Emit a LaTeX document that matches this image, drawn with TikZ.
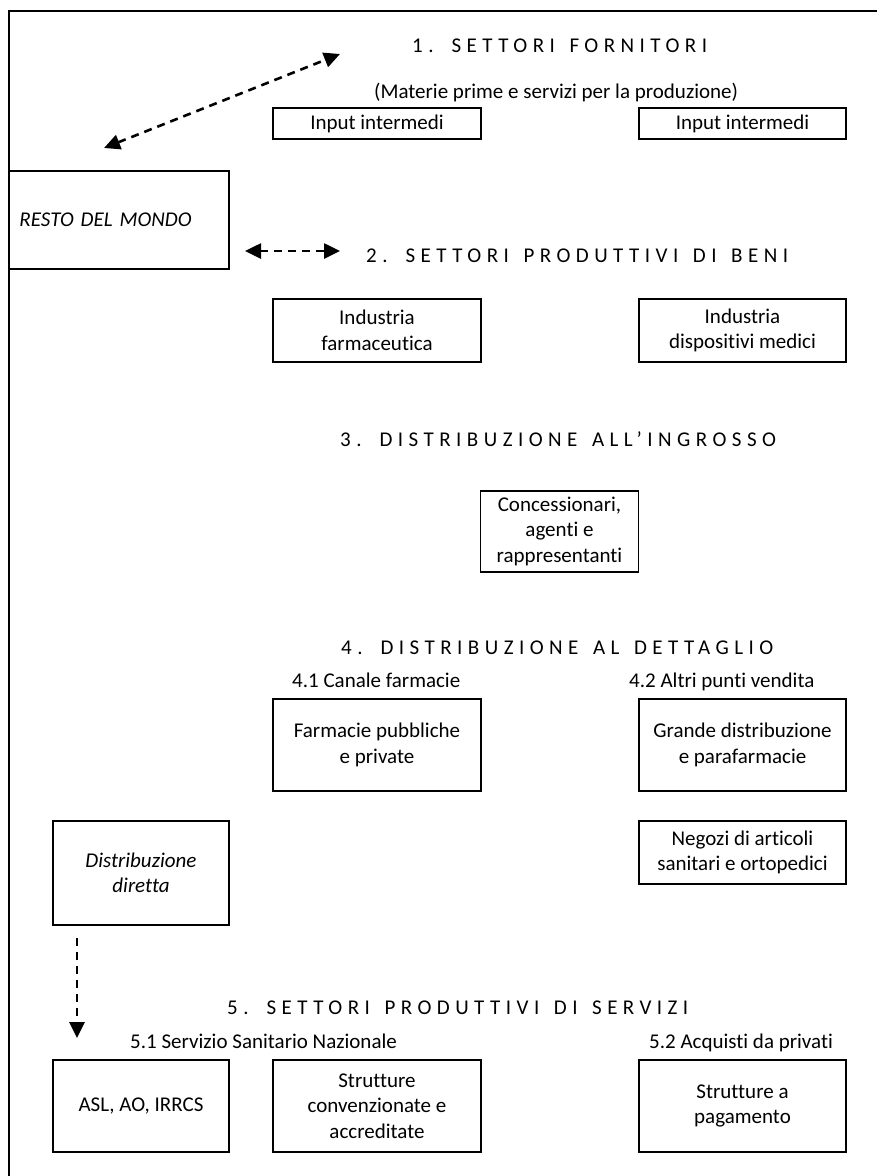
\documentclass[tikz,border=0pt]{standalone}
\usepackage{fontspec}
\setmainfont{Carlito}[Ligatures=NoCommon]
\newfontfamily\headfont{Carlito}[LetterSpace=26, WordSpace=1.43, Ligatures=NoCommon]
\usetikzlibrary{arrows.meta}
\tikzset{
  base/.style={font=\fontsize{21}{25.5}\selectfont},
  box/.style={base, draw, line width=1.9pt, align=center, inner sep=0pt},
  head/.style={font=\fontsize{21}{25.5}\selectfont\headfont, inner sep=0pt, anchor=base west},
  sub/.style={base, inner sep=0pt, anchor=base west},
  flow/.style={line width=2.6pt, dash pattern=on 8pt off 6pt, >={Triangle[length=16pt,width=15pt]}},
}
\begin{document}
\begin{tikzpicture}[x=1pt,y=-1pt]
\useasboundingbox (0,0) rectangle (877,1176);
% frame
\draw[line width=2pt] (9,1176) -- (9,11) -- (877,11);

% headings
\node[head] (h1) at (412,52.5) {1. SETTORI FORNITORI};
\node[sub]  (s1) at (374,98) {(Materie prime e servizi per la produzione)};
\node[head] (h2) at (366,262) {2. SETTORI PRODUTTIVI DI BENI};
\node[head] (h3) at (340,446) {3. DISTRIBUZIONE ALL’INGROSSO};
\node[head] (h4) at (341,654) {4. DISTRIBUZIONE AL DETTAGLIO};
\node[sub]  (s41) at (292,687) {4.1 Canale farmacie};
\node[sub]  (s42) at (629,687) {4.2 Altri punti vendita};
\node[head] (h5) at (227,1014) {5. SETTORI PRODUTTIVI DI SERVIZI};
\node[sub]  (s51) at (130,1048) {5.1 Servizio Sanitario Nazionale};
\node[sub]  (s52) at (649,1048) {5.2 Acquisti da privati};

% boxes
\node[box, minimum width=208, minimum height=31] (in1) at (377,123.5) {Input intermedi};
\node[box, minimum width=207, minimum height=31] (in2) at (742.5,123.5) {Input intermedi};
\node[box, minimum width=220, minimum height=98, text width=199, inner xsep=10.5pt, align=left] (rdm) at (119,220) {\itshape RESTO DEL MONDO};
\node[box, minimum width=208, minimum height=63] (if1) at (377,330.5) {Industria\\farmaceutica};
\node[box, minimum width=207, minimum height=63] (if2) at (742.5,330.5) {Industria\\dispositivi medici};
\node[box, minimum width=158, minimum height=81] (con) at (559.5,531.2) {Concessionari,\\agenti e\\rappresentanti};
\node[box, minimum width=208, minimum height=92] (far) at (377,745) {Farmacie pubbliche\\e private};
\node[box, minimum width=207, minimum height=92] (gd) at (742.5,745) {Grande distribuzione\\e parafarmacie};
\node[box, minimum width=176, minimum height=104] (dd) at (141,873) {\itshape Distribuzione\\\itshape diretta};
\node[box, minimum width=207, minimum height=63] (neg) at (742.5,852.5) {Negozi di articoli\\sanitari e ortopedici};
\node[box, minimum width=176, minimum height=92] (asl) at (141,1106) {ASL, AO, IRRCS};
\node[box, minimum width=208, minimum height=92] (sc) at (377,1106) {Strutture\\convenzionate e\\accreditate};
\node[box, minimum width=207, minimum height=92] (sp) at (742.5,1106) {Strutture a\\pagamento};

% arrows
\coordinate (a1) at (104,148);
\coordinate (a2) at (340,54);
\draw[flow, <->] (a1) -- (a2);
\coordinate (b1) at (245,251);
\coordinate (b2) at (340,251);
\draw[flow, <->] (b1) -- (b2);
\coordinate (c1) at (77,938);
\coordinate (c2) at (77,1038);
\draw[flow, ->] (c1) -- (c2);
\end{tikzpicture}
\end{document}
